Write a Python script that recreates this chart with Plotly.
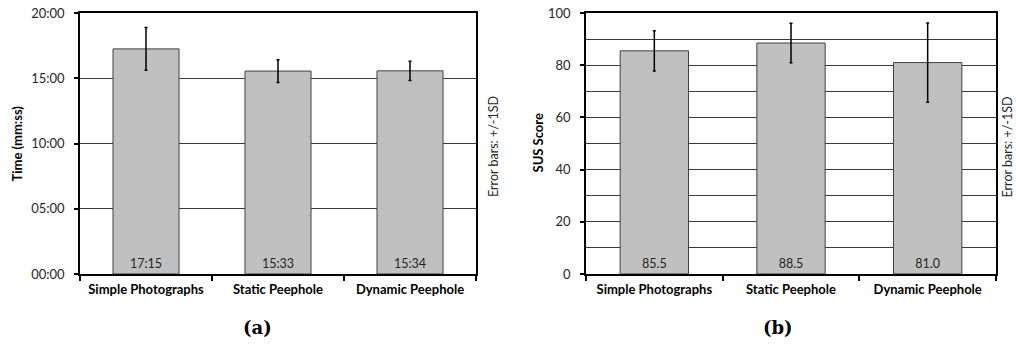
import plotly.graph_objects as go
from plotly.subplots import make_subplots

categories = ["Simple Photographs", "Static Peephole", "Dynamic Peephole"]
time_sec = [1035, 933, 934]
time_sd_sec = [98, 52, 44]
time_tick_vals = [0, 300, 600, 900, 1200]
time_tick_text = ["00:00", "05:00", "10:00", "15:00", "20:00"]
sus_score = [85.5, 88.5, 81.0]
sus_sd = [7.7, 7.6, 15.2]

FONT = "Lato"
TXT = "#262626"
GRID = "#3a3a3a"
BAR = "#c0c0c0"
BAR_LINE = "#404040"

def mmss(s):
    return f"{int(s)//60:02d}:{int(s)%60:02d}"

fig = make_subplots(rows=1, cols=2)

fig.add_trace(go.Bar(
    x=categories, y=time_sec, width=0.5,
    marker=dict(color=BAR, line=dict(color=BAR_LINE, width=1)),
    error_y=dict(type="data", array=time_sd_sec, color="black", thickness=1.5, width=1.5),
    text=[mmss(v) for v in time_sec], textposition="inside", insidetextanchor="start",
    textangle=0, textfont=dict(family=FONT, size=12.5, color=TXT), showlegend=False,
), row=1, col=1)

fig.add_trace(go.Bar(
    x=categories, y=sus_score, width=0.5,
    marker=dict(color=BAR, line=dict(color=BAR_LINE, width=1)),
    error_y=dict(type="data", array=sus_sd, color="black", thickness=1.5, width=1.5),
    text=[f"{v:.1f}" for v in sus_score], textposition="inside", insidetextanchor="start",
    textangle=0, textfont=dict(family=FONT, size=12.5, color=TXT), showlegend=False,
), row=1, col=2)

W, H = 1016, 344
def px_x(a, b):
    return [a / W, b / W]
ydom = [(H - 274) / H, (H - 13) / H]

xaxis_common = dict(
    type="category", tickson="boundaries", ticks="outside", ticklen=5, tickwidth=1.5,
    tickcolor="black", showline=True, linecolor="black", linewidth=1.5, mirror=True,
    showgrid=False, automargin=False, ticklabelstandoff=3,
    tickfont=dict(family=FONT, size=13, color="black", weight="bold"),
)
yaxis_common = dict(
    ticks="outside", ticklen=4, tickcolor="black", tickwidth=1.5,
    showline=True, linecolor="black", linewidth=1.5, mirror=True,
    showgrid=True, gridcolor=GRID, gridwidth=1, zeroline=False, automargin=False,
    ticklabelstandoff=7, tickfont=dict(family=FONT, size=13, color=TXT),
)

def ann(text, x, y, size, angle=0, family=FONT, color="black", xanchor="center"):
    return dict(text=text, x=x, y=y, xref="paper", yref="paper", xanchor=xanchor,
                yanchor="middle", textangle=angle, showarrow=False,
                font=dict(family=family, size=size, color=color))

fig.update_layout(
    xaxis=dict(domain=px_x(80, 476), **xaxis_common),
    xaxis2=dict(domain=px_x(586, 996), **xaxis_common),
    yaxis=dict(domain=ydom, range=[0, 1200], tickvals=time_tick_vals, ticktext=time_tick_text,
               **yaxis_common),
    yaxis2=dict(domain=ydom, range=[0, 100], dtick=20, tick0=0,
                minor=dict(dtick=10, showgrid=True, gridcolor=GRID, gridwidth=1, ticks=""),
                **yaxis_common),
    width=W, height=H, margin=dict(l=0, r=0, t=0, b=0),
    paper_bgcolor="white", plot_bgcolor="white", bargap=0.5,
    annotations=[
        ann("<b>Time (mm:ss)</b>", 16 / W, (H - 143.5) / H, 13, -90),
        ann("<b>SUS Score</b>", 537 / W, (H - 143.5) / H, 13, -90),
        ann("Error bars: +/-1SD", 493 / W, (H - 147) / H, 12.5, -90, color=TXT),
        ann("Error bars: +/-1SD", 1.0, (H - 147) / H, 12.5, -90, color=TXT, xanchor="right"),
        ann("<b>(a)</b>", 257 / W, (H - 327) / H, 18, family="DejaVu Serif"),
        ann("<b>(b)</b>", 778 / W, (H - 327) / H, 18, family="DejaVu Serif"),
    ],
)

fig.write_html("out.html", config={"displayModeBar": False},
               post_script="document.body.style.margin='0';document.body.style.overflow='hidden';")
